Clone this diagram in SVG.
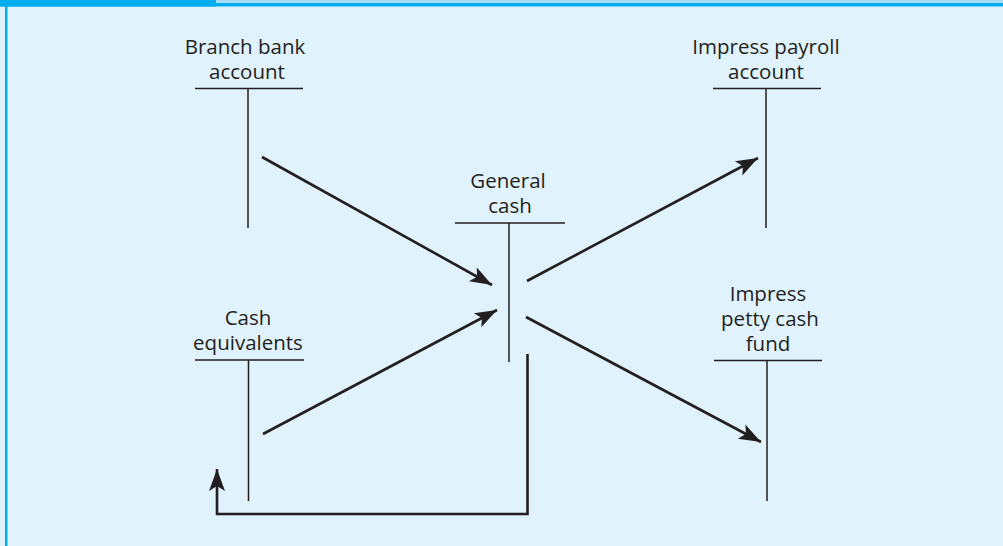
<svg xmlns="http://www.w3.org/2000/svg" width="1003" height="546" viewBox="0 0 1003 546">
<style>
.t{font-family:"Open Sans","Noto Sans",sans-serif;font-size:20.5px;fill:#231f20;text-anchor:middle}
.tl{stroke:#231f20;stroke-width:1.5;fill:none}
.ar{stroke:#231f20;stroke-width:2.6;fill:none;marker-end:url(#ah)}
</style>
<defs>
<marker id="ah" markerUnits="userSpaceOnUse" markerWidth="24" markerHeight="18" refX="22" refY="8" orient="auto" viewBox="0 0 24 16">
<path d="M0,0 L22,8 L0,16 L5,8 Z" fill="#231f20"/>
</marker>
</defs>
<rect x="0" y="0" width="1003" height="546" fill="#e0f2fc"/>
<rect x="0" y="0" width="1003" height="3" fill="#a5dcf5"/>
<rect x="0" y="3" width="1003" height="3.5" fill="#00aeef"/>
<rect x="0" y="0" width="216" height="6.5" fill="#00aeef"/>
<rect x="5" y="6" width="2.5" height="540" fill="#00aeef"/>

<g id="branch">
<text class="t" x="245" y="54">Branch bank</text>
<text class="t" x="247" y="79">account</text>
<path class="tl" d="M195,88.5H303M248,88.5V228"/>
</g>
<g id="general">
<text class="t" x="508" y="188">General</text>
<text class="t" x="510" y="213">cash</text>
<path class="tl" d="M455,223H565M509,223V362"/>
</g>
<g id="equiv">
<text class="t" x="248" y="325">Cash</text>
<text class="t" x="248" y="350">equivalents</text>
<path class="tl" d="M195,360H304M248.5,360V501"/>
</g>
<g id="payroll">
<text class="t" x="766" y="54">Impress payroll</text>
<text class="t" x="766" y="79">account</text>
<path class="tl" d="M713,88.5H821M766,88.5V228"/>
</g>
<g id="petty">
<text class="t" x="768" y="301">Impress</text>
<text class="t" x="770" y="326">petty cash</text>
<text class="t" x="768" y="351">fund</text>
<path class="tl" d="M714,360.5H822M767,360.5V501"/>
</g>
<g id="connectors">
<line class="ar" x1="262" y1="157" x2="492" y2="285"/>
<line class="ar" x1="263" y1="434" x2="497" y2="310"/>
<line class="ar" x1="527" y1="281" x2="758" y2="158"/>
<line class="ar" x1="526" y1="317" x2="761" y2="442"/>
<path class="ar" d="M527.5,354V514H217V469"/>
</g>
</svg>
